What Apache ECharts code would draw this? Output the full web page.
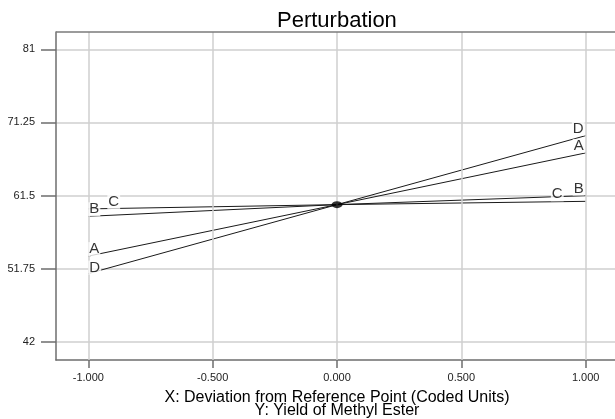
<!DOCTYPE html>
<html><head><meta charset="utf-8">
<script src="https://cdn.jsdelivr.net/npm/echarts@6/dist/echarts.min.js"></script>
<style>html,body{margin:0;padding:0;background:#fff;overflow:hidden}#c{width:615px;height:419px}</style>
</head><body><div id="c"></div>
<script>
// ---- data ----
const xValues = [-1, 0, 1];
const seriesA = [53.44, 60.3, 67.19];
const seriesB = [58.74, 60.3, 61.5];
const seriesC = [59.73, 60.3, 60.74];
const seriesD = [51.11, 60.3, 69.49];
const seriesNames = ['A', 'B', 'C', 'D'];
const centerPoint = [0, 60.3];
const xTicks = [-1, -0.5, 0, 0.5, 1];
const yTicks = [42, 51.75, 61.5, 71.25, 81];
const titleText = 'Perturbation';
const xName = 'X: Deviation from Reference Point (Coded Units)';
const yName = 'Y: Yield of Methyl Ester';

// ---- axis extents ----
const xMin = -1.13, xMax = 1.13, yMin = 39.6, yMax = 83.3;

// ---- styling for end labels (offsets in px) ----
const labelStyle = {
  A: {left: [0, 0], right: [-1, 0]},
  B: {left: [0, 0], right: [-1, 0]},
  C: {left: [19, 0], right: [-22, 0]},
  D: {left: [0, 1], right: [-1, 0]}
};

const allSeries = {A: seriesA, B: seriesB, C: seriesC, D: seriesD};
const chart = echarts.init(document.getElementById('c'), null, {renderer: 'canvas'});

const lineSeries = seriesNames.map(n => ({
  name: n, type: 'line', data: xValues.map((x, i) => [x, allSeries[n][i]]),
  showSymbol: false, symbol: 'none', silent: true, animation: false,
  lineStyle: {color: '#1a1a1a', width: 1}, z: 2
}));

const labelData = [];
seriesNames.forEach(n => {
  const arr = allSeries[n];
  labelData.push({value: [xValues[0], arr[0]], label: {show: true, formatter: n, position: 'top', align: 'left', distance: 0, offset: labelStyle[n].left}});
  labelData.push({value: [xValues[xValues.length - 1], arr[arr.length - 1]], label: {show: true, formatter: n, position: 'top', align: 'right', distance: 0, offset: labelStyle[n].right}});
});

const labelSeries = {
  type: 'scatter', data: labelData, symbolSize: 0, silent: true, animation: false, z: 5,
  label: {color: '#000', fontSize: 15, fontFamily: 'Liberation Sans, Arial, sans-serif', backgroundColor: '#fff', padding: [0, 1, 0, 1], lineHeight: 14}
};

const centerSeries = {
  type: 'scatter', data: [centerPoint], symbol: 'circle', symbolSize: [11, 7],
  itemStyle: {color: '#000'}, silent: true, animation: false, z: 6
};

// vertical grid lines at x ticks
const gridSeries = {
  type: 'line', data: [], silent: true, animation: false, z: 1,
  markLine: {
    silent: true, symbol: ['none', 'none'], animation: false,
    label: {show: false},
    lineStyle: {color: '#cfcfcf', width: 1.5, type: 'solid'},
    data: xTicks.map(v => ({xAxis: v}))
  }
};

// top frame line
const topBorderSeries = {
  type: 'line', data: [], silent: true, animation: false, z: 3,
  markLine: {
    silent: true, symbol: ['none', 'none'], animation: false,
    label: {show: false},
    lineStyle: {color: '#7a7a7a', width: 1.5, type: 'solid'},
    data: [{yAxis: yMax}]
  }
};

const axisFont = 'Liberation Sans, Arial, sans-serif';
const option = {
  animation: false,
  backgroundColor: '#fff',
  title: {
    text: titleText, left: 272, top: 5, padding: 5,
    textStyle: {fontSize: 22, fontWeight: 'normal', color: '#000', fontFamily: axisFont}
  },
  grid: {left: 56, top: 32, width: 562, height: 328, outerBoundsMode: 'none', containLabel: false, show: false},
  xAxis: {
    type: 'value', min: xMin, max: xMax,
    name: xName + '\n' + yName, nameLocation: 'middle', nameGap: 31,
    nameTextStyle: {fontSize: 16, color: '#000', lineHeight: 13, fontFamily: axisFont},
    axisLine: {show: true, onZero: false, lineStyle: {color: '#6e6e6e', width: 1.5}},
    axisTick: {show: true, length: 8, customValues: xTicks, lineStyle: {color: '#6e6e6e', width: 1.5}},
    axisLabel: {customValues: xTicks, margin: 12, fontSize: 11, color: '#222', fontFamily: axisFont, formatter: v => v.toFixed(3)},
    splitLine: {show: false}
  },
  yAxis: {
    type: 'value', min: yMin, max: yMax,
    axisLine: {show: true, onZero: false, lineStyle: {color: '#6e6e6e', width: 1.5}},
    axisTick: {show: true, length: 15, customValues: yTicks, lineStyle: {color: '#6e6e6e', width: 1.5}},
    axisLabel: {customValues: yTicks, margin: 21, fontSize: 11, color: '#222', fontFamily: axisFont, formatter: v => String(v)},
    splitLine: {show: true, lineStyle: {color: '#cfcfcf', width: 1.5}}
  },
  series: [gridSeries, ...lineSeries, topBorderSeries, labelSeries, centerSeries]
};
chart.setOption(option);
</script></body></html>
